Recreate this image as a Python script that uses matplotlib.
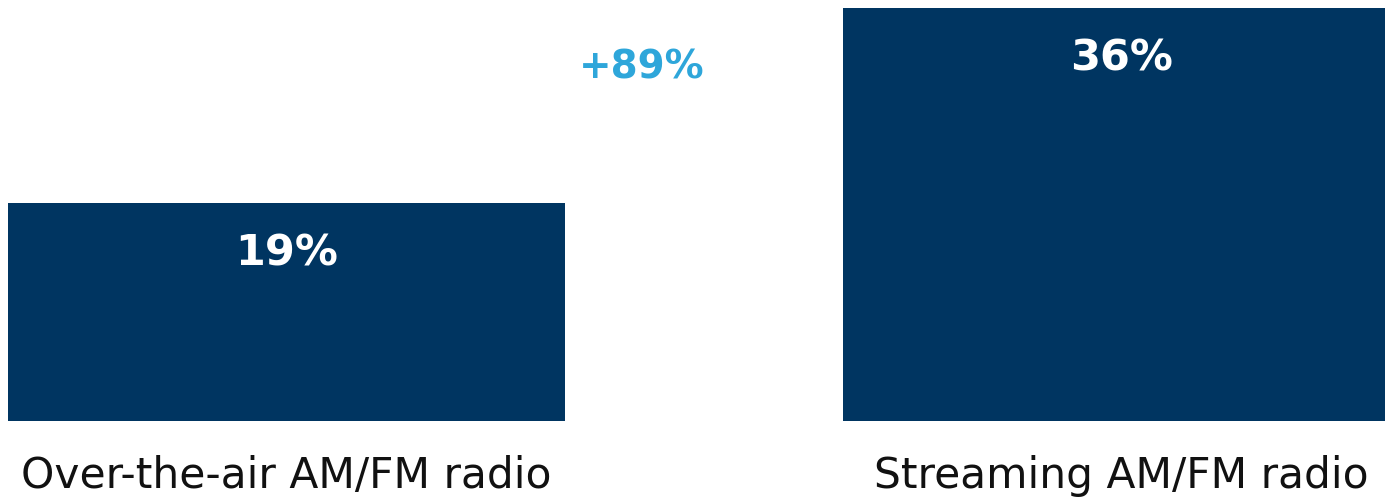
import matplotlib
matplotlib.use("Agg")
import matplotlib.pyplot as plt

categories = ["Over-the-air AM/FM radio", "Streaming AM/FM radio"]
values = [19, 36]
labels = ["19%", "36%"]
change_label = "+89%"

bar_color = "#003561"
accent = "#2EA6DA"

fig = plt.figure(figsize=(13.85, 4.98), dpi=100)
ax = fig.add_axes([0, 77/498, 1, 421/498])

x = [0, 1]
ax.bar(x, values, width=0.667, color=bar_color)
ax.set_xlim(-0.343, 1.3156)
ax.set_ylim(0, 36.7)
ax.axis("off")

for xi, v, lab in zip(x, values, labels):
    ax.text(xi, v - 4.4, lab, ha="center", va="center", color="white",
            fontsize=31, fontweight="bold", family="DejaVu Sans")

for xi, cat in zip(x, categories):
    ax.text(xi, -4.8, cat, ha="center", va="center", color="#111111",
            fontsize=30.5, family="DejaVu Sans")

ax.text(0.425, 30.8, change_label, ha="center", va="center", color=accent,
        fontsize=28, fontweight="bold", family="DejaVu Sans")

fig.savefig("out.png", dpi=100)
